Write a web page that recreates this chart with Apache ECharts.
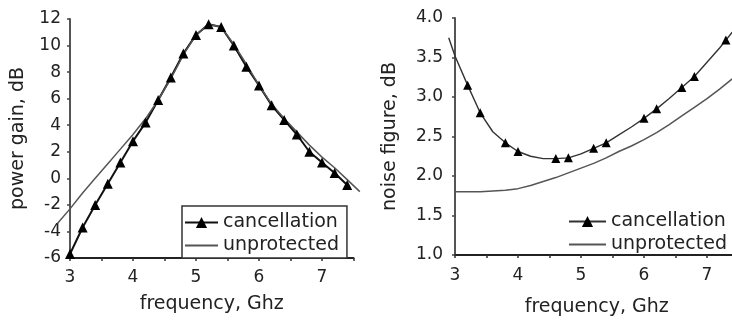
<!DOCTYPE html>
<html>
<head>
<meta charset="utf-8">
<script src="https://cdn.jsdelivr.net/npm/echarts@6/dist/echarts.min.js"></script>
<style>
  html, body { margin: 0; padding: 0; background: #fff; overflow: hidden; width: 732px; height: 320px; }
  #gain, #nf { position: absolute; top: 0; height: 320px; }
  #gain { left: 0; width: 366px; }
  #nf { left: 366px; width: 400px; }
</style>
</head>
<body>
<div id="gain"></div>
<div id="nf"></div>
<script>
// Power gain vs frequency (GHz)
const gainFreq = [3.0, 3.2, 3.4, 3.6, 3.8, 4.0, 4.2, 4.4, 4.6, 4.8, 5.0, 5.2, 5.4, 5.6, 5.8, 6.0, 6.2, 6.4, 6.6, 6.8, 7.0, 7.2, 7.4];
const gainCancellation = [-5.7, -3.7, -2.0, -0.4, 1.2, 2.8, 4.2, 5.9, 7.6, 9.4, 10.8, 11.6, 11.4, 10.0, 8.4, 7.0, 5.5, 4.4, 3.3, 2.0, 1.2, 0.4, -0.5];
const gainFreqRef = [2.8, 3.0, 3.2, 3.4, 3.6, 3.8, 4.0, 4.2, 4.4, 4.6, 4.8, 5.0, 5.2, 5.4, 5.6, 5.8, 6.0, 6.2, 6.4, 6.6, 6.8, 7.0, 7.2, 7.4, 7.6];
const gainUnprotected = [-3.4, -2.3, -1.1, 0.0, 1.1, 2.2, 3.3, 4.5, 5.9, 7.5, 9.3, 10.8, 11.6, 11.4, 10.1, 8.6, 7.0, 5.6, 4.5, 3.5, 2.5, 1.6, 0.8, -0.1, -1.0];

// Noise figure vs frequency (GHz)
const nfFreq = [2.9, 3.0, 3.2, 3.4, 3.6, 3.8, 4.0, 4.2, 4.4, 4.6, 4.8, 5.0, 5.2, 5.4, 5.6, 5.8, 6.0, 6.2, 6.4, 6.6, 6.8, 7.0, 7.2, 7.3, 7.4];
const nfCancellation = [3.75, 3.52, 3.15, 2.80, 2.56, 2.42, 2.31, 2.25, 2.22, 2.22, 2.23, 2.28, 2.35, 2.42, 2.52, 2.62, 2.73, 2.85, 2.98, 3.12, 3.26, 3.44, 3.62, 3.72, 3.82];
const nfMarked = [3.2, 3.4, 3.8, 4.0, 4.6, 4.8, 5.2, 5.4, 6.0, 6.2, 6.6, 6.8, 7.3];
const nfFreqRef = [3.0, 3.2, 3.4, 3.6, 3.8, 4.0, 4.2, 4.4, 4.6, 4.8, 5.0, 5.2, 5.4, 5.6, 5.8, 6.0, 6.2, 6.4, 6.6, 6.8, 7.0, 7.2, 7.4];
const nfUnprotected = [1.80, 1.80, 1.80, 1.81, 1.82, 1.84, 1.88, 1.93, 1.98, 2.04, 2.10, 2.16, 2.23, 2.31, 2.38, 2.46, 2.55, 2.65, 2.76, 2.87, 2.98, 3.10, 3.23];

const seriesNames = ['cancellation', 'unprotected'];
const xTitle = 'frequency, Ghz';
const gainTitle = 'power gain, dB';
const nfTitle = 'noise figure, dB';

const FONT = 'DejaVu Sans';
const TEXT = '#222';

// frequency scale: visible axis 3..7.5 GHz; curves run slightly past it on a
// wider, hidden axis with the same pixels per GHz
const F_MIN = 3, F_MAX = 7.5, F_LO = 2.8, F_HI = 7.6, PX_PER_GHZ = 63;

const pairs = (xs, ys) => xs.map((x, i) => [x, ys[i]]);

function plotGrids(left, top, bottom) {
  const w = (F_MAX - F_MIN) * PX_PER_GHZ;
  return [
    { left: left, top: top, bottom: bottom, width: w, outerBoundsMode: 'none' },
    { left: left - (F_MIN - F_LO) * PX_PER_GHZ, top: top, bottom: bottom, width: (F_HI - F_LO) * PX_PER_GHZ, outerBoundsMode: 'none' }
  ];
}

function freqAxis(labelMargin, nameGap) {
  return {
    type: 'value', gridIndex: 0, min: F_MIN, max: F_MAX, interval: 0.5,
    name: xTitle, nameLocation: 'middle', nameGap: nameGap,
    nameTextStyle: { fontFamily: FONT, fontSize: 19, color: TEXT },
    axisLine: { show: true, onZero: false, lineStyle: { color: '#222', width: 2 } },
    axisTick: { show: true, length: 3, lineStyle: { color: '#333', width: 1.5 } },
    axisLabel: {
      margin: labelMargin, fontFamily: FONT, fontSize: 17, color: TEXT,
      formatter: v => Number.isInteger(v) ? String(v) : ''
    },
    splitLine: { show: false }
  };
}

function valueAxis(min, max, step, title, nameGap, labelMargin, fmt) {
  return {
    type: 'value', gridIndex: 0, min: min, max: max, interval: step,
    name: title, nameLocation: 'middle', nameGap: nameGap, nameRotate: 90,
    nameTextStyle: { fontFamily: FONT, fontSize: 19, color: TEXT },
    axisLine: { show: true, onZero: false, lineStyle: { color: '#555', width: 2 } },
    axisTick: { show: true, length: 3, lineStyle: { color: '#444', width: 1.5 } },
    axisLabel: { margin: labelMargin, fontFamily: FONT, fontSize: 17, color: TEXT, formatter: fmt },
    splitLine: { show: false }
  };
}

const hiddenX = { type: 'value', gridIndex: 1, min: F_LO, max: F_HI, show: false, splitLine: { show: false } };
const hiddenY = (min, max) => ({ type: 'value', gridIndex: 1, min: min, max: max, show: false, splitLine: { show: false } });

const legendText = { fontFamily: FONT, fontSize: 19, color: TEXT, lineHeight: 14 };
const legendData = [
  { name: seriesNames[0] },
  { name: seriesNames[1], itemStyle: { color: 'rgba(0,0,0,0)', borderWidth: 0 } }
];

// Left panel: power gain
const gainChart = echarts.init(document.getElementById('gain'), null, { renderer: 'canvas' });
gainChart.setOption({
  animation: false,
  grid: plotGrids(70, 19, 62),
  xAxis: [freqAxis(11, 37), hiddenX],
  yAxis: [valueAxis(-6, 12, 2, gainTitle, 42, 9, v => String(v)), hiddenY(-6, 12)],
  legend: {
    orient: 'vertical', left: 182, top: 206,
    padding: [7, 8, 3, 2], itemGap: 4, itemWidth: 33, itemHeight: 14,
    borderColor: '#333', borderWidth: 1.5, backgroundColor: '#fff',
    textStyle: legendText,
    data: legendData
  },
  series: [
    {
      name: seriesNames[0], type: 'line', xAxisIndex: 1, yAxisIndex: 1,
      data: pairs(gainFreq, gainCancellation),
      symbol: 'triangle', symbolSize: 10,
      lineStyle: { color: '#111', width: 2 },
      itemStyle: { color: '#000' }
    },
    {
      name: seriesNames[1], type: 'line', xAxisIndex: 1, yAxisIndex: 1,
      data: pairs(gainFreqRef, gainUnprotected),
      symbol: 'circle', symbolSize: 0, showSymbol: false,
      lineStyle: { color: '#555', width: 1.5 },
      itemStyle: { color: '#555' }
    }
  ]
});

// Right panel: noise figure (plot runs past the page's right edge)
const nfChart = echarts.init(document.getElementById('nf'), null, { renderer: 'canvas' });
nfChart.setOption({
  animation: false,
  grid: plotGrids(89, 18, 65),
  xAxis: [freqAxis(12, 43), hiddenX],
  yAxis: [valueAxis(1, 4, 0.5, nfTitle, 55, 12, v => v.toFixed(1)), hiddenY(1, 4)],
  legend: {
    orient: 'vertical', left: 202, top: 212,
    padding: 0, itemGap: 4, itemWidth: 37, itemHeight: 14,
    textStyle: legendText,
    data: legendData
  },
  series: [
    {
      name: seriesNames[0], type: 'line', xAxisIndex: 1, yAxisIndex: 1,
      data: nfFreq.map((f, i) => ({
        value: [f, nfCancellation[i]],
        symbol: nfMarked.includes(f) ? 'triangle' : 'none'
      })),
      symbol: 'triangle', symbolSize: 9,
      lineStyle: { color: '#333', width: 1.4 },
      itemStyle: { color: '#000' }
    },
    {
      name: seriesNames[1], type: 'line', xAxisIndex: 1, yAxisIndex: 1,
      data: pairs(nfFreqRef, nfUnprotected),
      symbol: 'circle', symbolSize: 0, showSymbol: false,
      lineStyle: { color: '#555', width: 1.5 },
      itemStyle: { color: '#555' }
    }
  ]
});
</script>
</body>
</html>
